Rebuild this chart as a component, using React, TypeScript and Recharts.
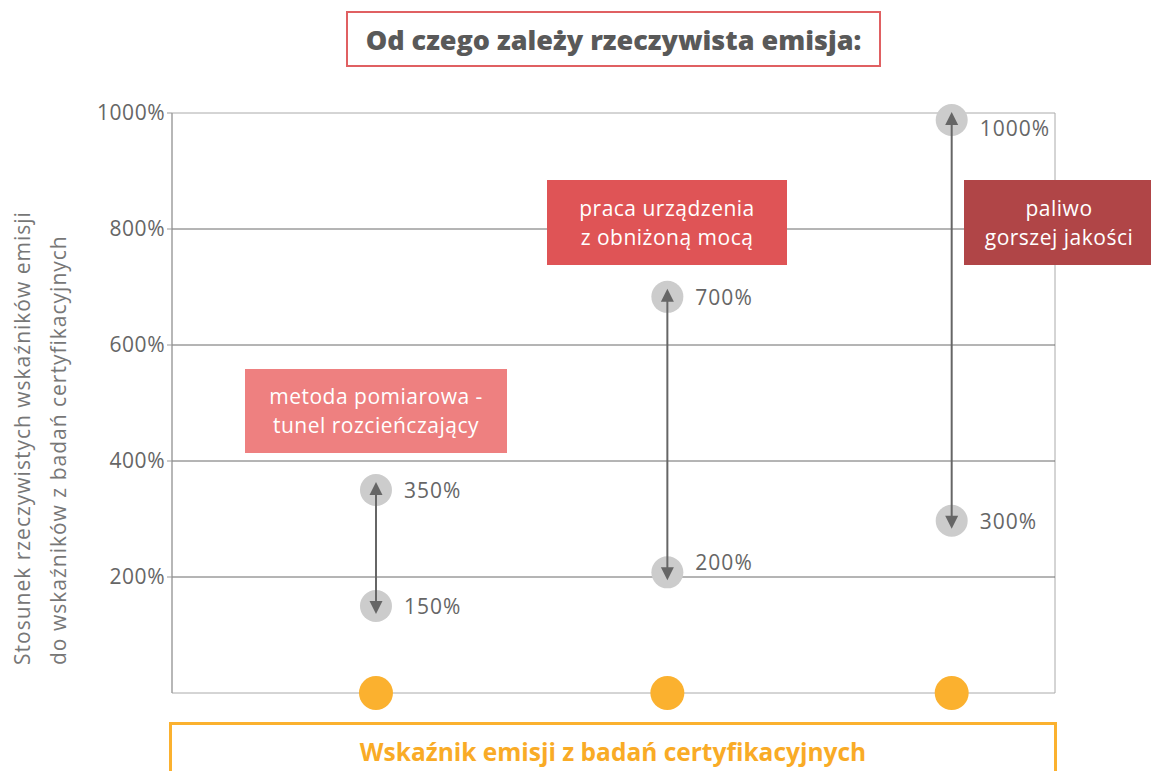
import {
    ComposedChart,
    Scatter,
    XAxis,
    YAxis,
    ReferenceLine,
    ReferenceArea,
} from "recharts"

// pozycje kategorii na osi X (0-100) i odczytane wartości
const categories = ["metoda pomiarowa", "praca urządzenia", "paliwo"]
const xPositions = [23.1, 56.1, 88.3]
const lowValues = [150, 208, 297]
const highValues = [350, 683, 988]
const lowLabels = ["150%", "200%", "300%"]
const highLabels = ["350%", "700%", "1000%"]
const baseValues = [0, 0, 0]
const yTicks = [200, 400, 600, 800, 1000]
const gridValues = [200, 400, 600, 800]

const FONT = "'Open Sans', Lato, sans-serif"
const GREY_TEXT = "#666666"

const points = categories.flatMap((name, i) => [
    { name, x: xPositions[i], y: lowValues[i], label: lowLabels[i] },
    { name, x: xPositions[i], y: highValues[i], label: highLabels[i] },
])

const basePoints = categories.map((name, i) => ({ name, x: xPositions[i], y: baseValues[i] }))

// etykieta lekko przesunięta, gdy nachodzi na linię siatki
const labelShift = (v: number) => {
    if (v > 950) return 8
    if (gridValues.some((g) => Math.abs(g - v) < 12)) return -10
    return 0
}

const GreyPoint = (props: any) => {
    const { cx, cy, payload } = props
    return (
        <g>
            <circle cx={cx} cy={cy} r={16} fill="#cccccc" />
            <text
                x={cx + 28}
                y={cy + labelShift(payload.y)}
                fontSize={21}
                fontFamily={FONT}
                letterSpacing={1}
                fill={GREY_TEXT}
                dominantBaseline="central"
            >
                {payload.label}
            </text>
        </g>
    )
}

const OrangePoint = (props: any) => {
    const { cx, cy } = props
    return <circle cx={cx} cy={cy} r={17} fill="#fbb12f" />
}

const Arrow = (props: any) => {
    const { x1, y1, y2 } = props
    const top = Math.min(y1, y2)
    const bottom = Math.max(y1, y2)
    const x = x1
    return (
        <g>
            <line x1={x} y1={top} x2={x} y2={bottom} stroke="#666666" strokeWidth={2} />
            <polygon points={`${x},${top - 8} ${x - 6.5},${top + 5} ${x + 6.5},${top + 5}`} fill="#666666" />
            <polygon
                points={`${x},${bottom + 8} ${x - 6.5},${bottom - 5} ${x + 6.5},${bottom - 5}`}
                fill="#666666"
            />
        </g>
    )
}

const boxText: React.CSSProperties = {
    position: "absolute",
    color: "#ffffff",
    fontFamily: FONT,
    fontSize: 21,
    letterSpacing: 0.5,
    lineHeight: "29px",
    display: "flex",
    alignItems: "center",
    justifyContent: "center",
    textAlign: "center",
}

export default function App() {
    return (
        <div
            style={{
                position: "absolute",
                left: 0,
                top: 0,
                width: 1151,
                height: 771,
                overflow: "hidden",
                background: "#ffffff",
                fontFamily: FONT,
            }}
        >
            <ComposedChart
                width={1151}
                height={771}
                margin={{ top: 113, right: 96, bottom: 78, left: 0 }}
                style={{ position: "absolute", left: 0, top: 0 }}
            >
                <XAxis type="number" dataKey="x" domain={[0, 100]} hide />
                <YAxis
                    type="number"
                    dataKey="y"
                    width={172}
                    domain={[0, 1000]}
                    ticks={yTicks}
                    tickFormatter={(v: number) => `${v}%`}
                    tickSize={5}
                    tickMargin={2}
                    stroke="#999999"
                    tick={{ fontSize: 21, fill: GREY_TEXT, fontFamily: FONT, letterSpacing: 0.5 }}
                />
                <ReferenceArea
                    x1={0}
                    x2={100}
                    y1={0}
                    y2={1000}
                    fill="none"
                    fillOpacity={0}
                    stroke="#aaaaaa"
                    strokeWidth={1}
                />
                {gridValues.map((g) => (
                    <ReferenceLine key={g} y={g} stroke="#6b6b6b" strokeWidth={1} />
                ))}
                <Scatter data={points} shape={<GreyPoint />} isAnimationActive={false} />
                <Scatter data={basePoints} shape={<OrangePoint />} isAnimationActive={false} />
                {categories.map((c, i) => (
                    <ReferenceLine
                        key={c}
                        zIndex={1000}
                        segment={[
                            { x: xPositions[i], y: lowValues[i] },
                            { x: xPositions[i], y: highValues[i] },
                        ]}
                        shape={(p: any) => <Arrow {...p} />}
                    />
                ))}
            </ComposedChart>

            {/* tytuł */}
            <div
                style={{
                    position: "absolute",
                    left: 346,
                    top: 11,
                    width: 531,
                    height: 52,
                    border: "2px solid #e06062",
                    display: "flex",
                    alignItems: "center",
                    justifyContent: "center",
                    color: "#595959",
                    fontWeight: 800,
                    fontSize: 27,
                }}
            >
                Od czego zależy rzeczywista emisja:
            </div>

            {/* opis osi Y */}
            <div
                style={{
                    position: "absolute",
                    left: 4,
                    top: 665,
                    transformOrigin: "0 0",
                    transform: "rotate(-90deg)",
                    whiteSpace: "nowrap",
                    color: "#777777",
                    fontSize: 21,
                    letterSpacing: 1,
                    lineHeight: "36px",
                }}
            >
                <div>Stosunek rzeczywistych wskaźników emisji</div>
                <div>do wskaźników z badań certyfikacyjnych</div>
            </div>

            {/* etykiety czynników */}
            <div style={{ ...boxText, left: 245, top: 369, width: 262, height: 84, background: "#ee8080" }}>
                metoda pomiarowa -<br />
                tunel rozcieńczający
            </div>
            <div style={{ ...boxText, left: 547, top: 180, width: 240, height: 85, background: "#df5456" }}>
                praca urządzenia
                <br />z obniżoną mocą
            </div>
            <div style={{ ...boxText, left: 964, top: 180, width: 190, height: 85, background: "#b04547" }}>
                paliwo
                <br />
                gorszej jakości
            </div>

            {/* opis osi X */}
            <div
                style={{
                    position: "absolute",
                    left: 169,
                    top: 722,
                    width: 888,
                    height: 60,
                    border: "3px solid #fbb12f",
                    color: "#f9ab26",
                    fontWeight: 700,
                    fontSize: 24.5,
                    textAlign: "center",
                    paddingTop: 10,
                    boxSizing: "border-box",
                }}
            >
                Wskaźnik emisji z badań certyfikacyjnych
            </div>
        </div>
    )
}
